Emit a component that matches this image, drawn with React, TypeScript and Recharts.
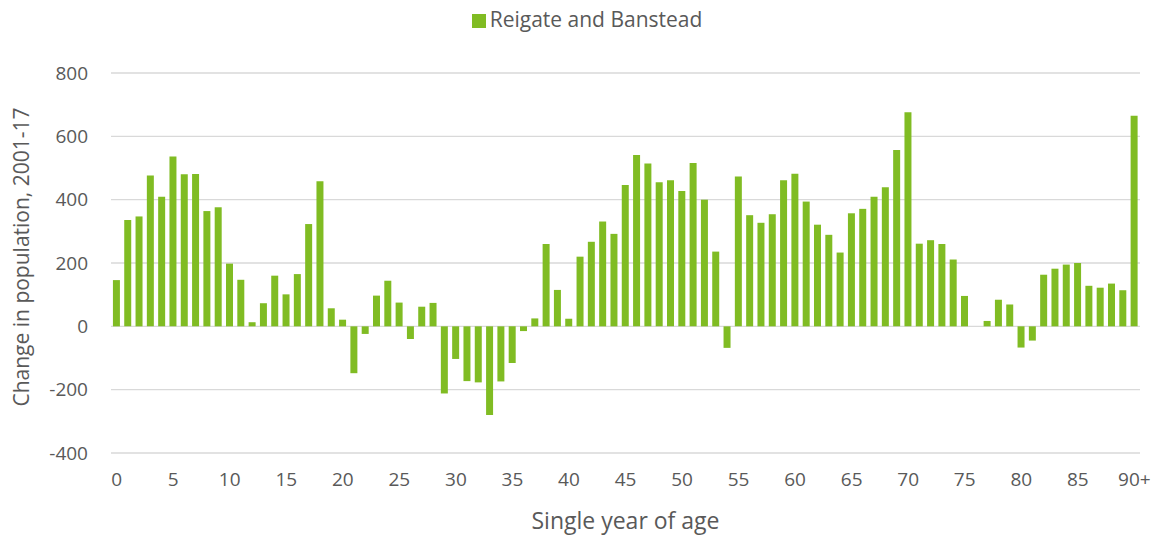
import React from 'react';
import { BarChart, Bar, XAxis, YAxis, CartesianGrid, Legend, Label } from 'recharts';

const ages: string[] = [
  '0','1','2','3','4','5','6','7','8','9','10','11','12','13','14','15','16','17','18','19',
  '20','21','22','23','24','25','26','27','28','29','30','31','32','33','34','35','36','37','38','39',
  '40','41','42','43','44','45','46','47','48','49','50','51','52','53','54','55','56','57','58','59',
  '60','61','62','63','64','65','66','67','68','69','70','71','72','73','74','75','76','77','78','79',
  '80','81','82','83','84','85','86','87','88','89','90+'
];

const changes: number[] = [
  146, 336, 347, 476, 409, 536, 480, 481, 364, 376,
  198, 147, 13, 73, 160, 101, 165, 323, 458, 57,
  21, -148, -24, 97, 144, 75, -40, 62, 74, -212,
  -103, -173, -177, -280, -174, -116, -15, 25, 260, 115,
  24, 220, 267, 331, 292, 446, 541, 514, 455, 461,
  427, 516, 400, 236, -68, 473, 351, 327, 354, 461,
  482, 394, 321, 289, 233, 357, 371, 409, 439, 557,
  676, 261, 272, 260, 211, 96, 0, 17, 84, 69,
  -67, -45, 163, 182, 195, 200, 128, 122, 135, 114,
  665
];

const yTicks: number[] = [-400, -200, 0, 200, 400, 600, 800];

const data = ages.map((age, i) => ({ age, value: changes[i] }));

const textColor = '#595959';
const fontFamily = '"Open Sans", sans-serif';

export default function App() {
  return (
    <div style={{ position: 'absolute', left: 0, top: 0, width: 1162, height: 538, background: '#fff' }}>
      <BarChart
        width={1162}
        height={538}
        data={data}
        margin={{ top: 45, right: 22, bottom: 25, left: 0 }}
        barCategoryGap="17%"
        style={{ fontFamily }}
      >
        <CartesianGrid vertical={false} stroke="#D9D9D9" strokeWidth={1.3} />
        <XAxis
          dataKey="age"
          interval={4}
          axisLine={false}
          tickLine={false}
          tickSize={0}
          tickMargin={20}
          height={60}
          tick={{ fill: textColor, fontSize: 19, fontFamily }}
        >
          <Label value="Single year of age" position="insideBottom" offset={-16} fill={textColor} fontSize={23} fontFamily={fontFamily} />
        </XAxis>
        <YAxis
          domain={[-400, 800]}
          ticks={yTicks}
          interval={0}
          axisLine={false}
          tickLine={false}
          tickSize={0}
          tickMargin={23}
          width={111}
          tick={{ fill: textColor, fontSize: 19, fontFamily }}
        >
          <Label value="Change in population, 2001-17" angle={-90} position="insideLeft" offset={22} dy={-6} fill={textColor} fontSize={21} fontFamily={fontFamily} style={{ textAnchor: 'middle' }} />
        </YAxis>
        <Legend
          verticalAlign="top"
          align="center"
          iconType="square"
          iconSize={14}
          wrapperStyle={{ top: 5, fontSize: 21, fontFamily, left: 22 }}
          formatter={(v: string) => <span style={{ color: textColor }}>{v}</span>}
        />
        <Bar dataKey="value" name="Reigate and Banstead" fill="#80BC23" isAnimationActive={false} />
      </BarChart>
    </div>
  );
}
